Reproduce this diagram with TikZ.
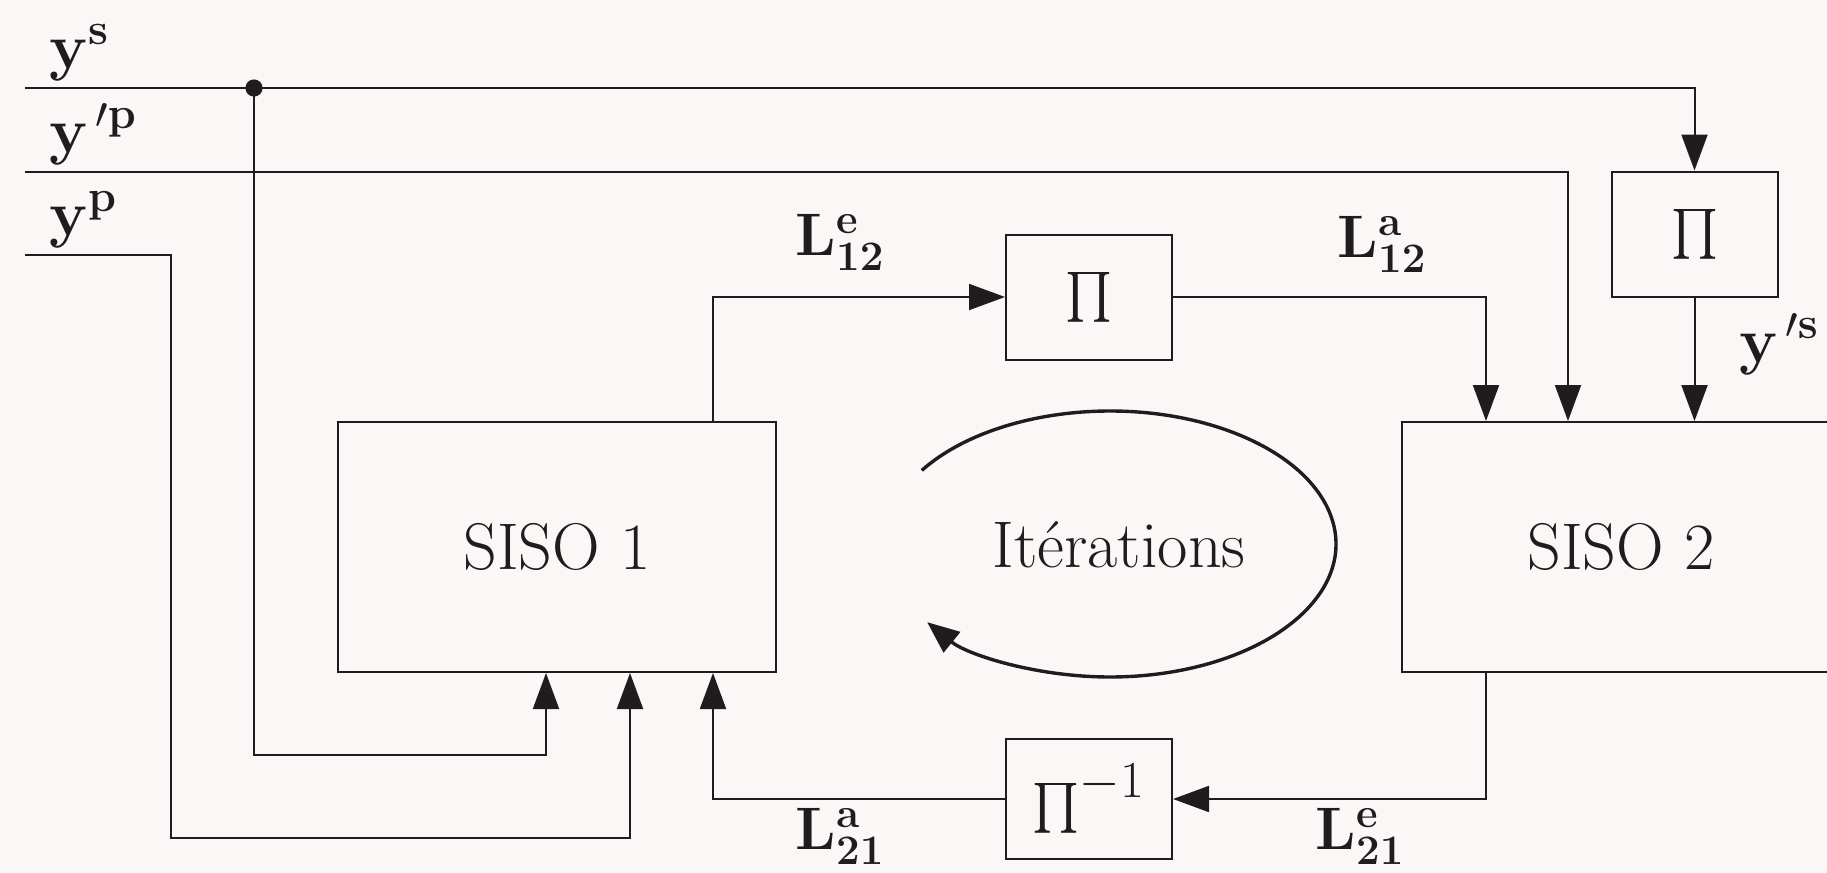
\RequirePackage{fix-cm}
\documentclass[tikz,border=0pt]{standalone}
\usepackage{amsmath,bm}
\usetikzlibrary{arrows.meta,calc}
\definecolor{bg}{RGB}{249,248,246}
\definecolor{ink}{RGB}{30,28,28}
\begin{document}
\begin{tikzpicture}[x=0.5pt,y=-0.5pt,
  line width=1pt, draw=ink,
  txt/.style={font=\fontsize{33}{39}\selectfont, text=ink, inner sep=0pt},
  lbl/.style={font=\fontsize{30}{36}\selectfont, text=ink, inner sep=0pt},
  sisobox/.style={draw=ink, line width=1pt, minimum width=219pt, minimum height=125pt, font=\fontsize{33}{39}\selectfont, text=ink},
  pibox/.style={draw=ink, line width=1pt, minimum width=83pt, minimum height=62.5pt, font=\fontsize{26}{31}\selectfont, text=ink},
  arr/.style={draw=ink, line width=1pt, -{Triangle[length=18pt,width=13pt]}},
  iter/.style={draw=ink, line width=1.7pt, -{Triangle[length=16pt,width=13pt,open,fill=ink]}}
]
\path[use as bounding box, fill=bg] (0,0) rectangle (1827,873);
\clip (0,0) rectangle (1827,873);

% blocks
\node[sisobox] (s1) at (557,547) {SISO 1};
\node[sisobox] (s2) at (1621,547) {SISO 2};
\node[pibox] (piT) at (1089,297) {$\textstyle\prod$};
\node[pibox] (piR) at (1694.5,234) {$\textstyle\prod$};
\node[pibox, minimum height=60pt] (piI) at (1089,799) {$\textstyle\prod^{\textstyle -1}$};

% input starts
\coordinate (ys) at (25,88);
\coordinate (ypp) at (25,172);
\coordinate (yp) at (25,255);
\coordinate (dot) at (254,88);

% connectors
\draw[arr] (ys) -| (piR.north);
\fill[ink] (dot) circle (4.3pt);
\draw[arr] (dot) |- (546,755) -- (546,755 |- s1.south);
\draw[arr] (yp) -- (171,255) -- (171,838) -- (630,838) -- (630,838 |- s1.south);
\draw[arr] (ypp) -- (1568,172) -- (1568,172 |- s2.north);
\draw[arr] (713,0 |- s1.north) |- (piT.west);
\draw[arr] (piT.east) -| (1486,0 |- s2.north);
\draw[arr] (piR.south) -- (piR.south |- s2.north);
\draw[arr] (1486,0 |- s2.south) |- (piI.east);
\draw[arr] (piI.west) -| (713,0 |- s1.south);

% labels
\node[lbl, anchor=base west, font=\fontsize{32}{38}\selectfont] (lys) at (48,68) {$\mathbf{y}^{\mathbf{s}}$};
\node[lbl, anchor=base west, font=\fontsize{32}{38}\selectfont] (lypp) at (48,152) {$\mathbf{y}^{\,\prime\mathbf{p}}$};
\node[lbl, anchor=base west, font=\fontsize{32}{38}\selectfont] (lyp) at (48,235) {$\mathbf{y}^{\mathbf{p}}$};
\node[lbl] (l12e) at (840,242) {$\mathbf{L}^{\mathbf{e}}_{\mathbf{12}}$};
\node[lbl] (l12a) at (1382,244) {$\mathbf{L}^{\mathbf{a}}_{\mathbf{12}}$};
\node[lbl] (l21a) at (840,836) {$\mathbf{L}^{\mathbf{a}}_{\mathbf{21}}$};
\node[lbl] (l21e) at (1360,836) {$\mathbf{L}^{\mathbf{e}}_{\mathbf{21}}$};
\node[lbl, anchor=base west, font=\fontsize{32}{38}\selectfont] (lyps) at (1738,362) {$\mathbf{y}^{\,\prime\mathbf{s}}$};

% iterations
\node[txt] (it) at (1119,545) {Itérations};
\draw[iter] (1110,544) ++(146.4:113pt and 66.5pt) arc[start angle=146.4, end angle=-144, x radius=113pt, y radius=66.5pt];
\end{tikzpicture}
\end{document}
